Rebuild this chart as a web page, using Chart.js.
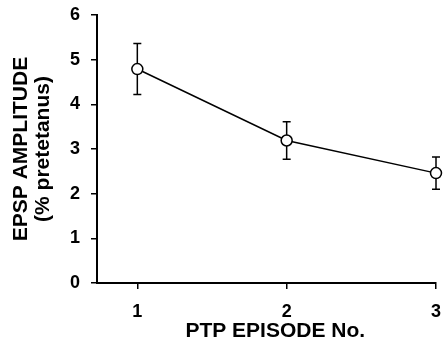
<!DOCTYPE html>
<html>
<head>
<meta charset="utf-8">
<script src="https://cdn.jsdelivr.net/npm/chart.js@4.4.1/dist/chart.umd.min.js"></script>
<style>
  html, body { margin: 0; padding: 0; background: #fff; }
  #wrap { width: 443px; height: 350px; }
</style>
</head>
<body>
<div id="wrap"><canvas id="ptpChart"></canvas></div>
<script>
// data
const episodes = [1, 2, 3];
const amplitude = [4.79, 3.19, 2.46];
const errors = [0.57, 0.42, 0.36];
const xTicks = [1, 2, 3];
const yTicks = [0, 1, 2, 3, 4, 5, 6];

// error bars drawn under the open circles
const errorBars = {
  id: 'errorBars',
  beforeDatasetsDraw(chart) {
    const c = chart.ctx;
    const xs = chart.scales.x, ys = chart.scales.y;
    c.save();
    c.strokeStyle = '#000';
    c.lineWidth = 1.5;
    episodes.forEach(function(ep, i) {
      const px = xs.getPixelForValue(ep);
      const top = ys.getPixelForValue(amplitude[i] + errors[i]);
      const bot = ys.getPixelForValue(amplitude[i] - errors[i]);
      c.beginPath();
      c.moveTo(px, top); c.lineTo(px, bot);
      c.moveTo(px - 4, top); c.lineTo(px + 4, top);
      c.moveTo(px - 4, bot); c.lineTo(px + 4, bot);
      c.stroke();
    });
    c.restore();
  }
};

const family = '"Liberation Sans", Arial, sans-serif';
const tickFont = { family: family, weight: 'bold', size: 18 };
const titleFont = { family: family, weight: 'bold', size: 21, lineHeight: 1.05 };

new Chart(document.getElementById('ptpChart').getContext('2d'), {
  type: 'line',
  data: {
    datasets: [{
      data: episodes.map((e, i) => ({ x: e, y: amplitude[i] })),
      borderColor: '#000',
      borderWidth: 1.5,
      backgroundColor: '#fff',
      pointBackgroundColor: '#fff',
      pointBorderColor: '#000',
      pointBorderWidth: 1.5,
      pointRadius: 5.5,
      tension: 0,
      clip: false
    }]
  },
  options: {
    responsive: true,
    maintainAspectRatio: false,
    animation: false,
    layout: { padding: { top: 15, right: 6, left: 0, bottom: 0 } },
    plugins: { legend: { display: false }, tooltip: { enabled: false } },
    scales: {
      x: {
        type: 'linear',
        min: 0.73,
        max: 3,
        afterBuildTicks: function(axis) { axis.ticks = xTicks.map(v => ({ value: v })); },
        afterFit: function(axis) { axis.height = 67; axis.paddingLeft = 0; axis.paddingRight = 0; },
        border: { color: '#000', width: 2 },
        grid: { drawOnChartArea: false, drawTicks: true, tickLength: 6, color: '#000', lineWidth: 1.5 },
        ticks: { color: '#000', font: tickFont, padding: 12, maxRotation: 0 },
        title: { display: true, text: '\u00a0\u00a0\u00a0PTP EPISODE No.', color: '#000', font: titleFont, padding: { top: 0, bottom: 8 } }
      },
      y: {
        min: 0,
        max: 6,
        afterBuildTicks: function(axis) { axis.ticks = yTicks.map(v => ({ value: v })); },
        afterFit: function(axis) { axis.width = 97; axis.paddingTop = 0; axis.paddingBottom = 0; },
        border: { color: '#000', width: 2 },
        grid: { drawOnChartArea: false, drawTicks: true, tickLength: 6, color: '#000', lineWidth: 1.5 },
        ticks: { color: '#000', font: tickFont, padding: 11 },
        title: { display: true, text: ['EPSP AMPLITUDE', '(% pretetanus)'], color: '#000', font: titleFont, padding: { top: 10, bottom: 0 } }
      }
    }
  },
  plugins: [errorBars]
});
</script>
</body>
</html>
